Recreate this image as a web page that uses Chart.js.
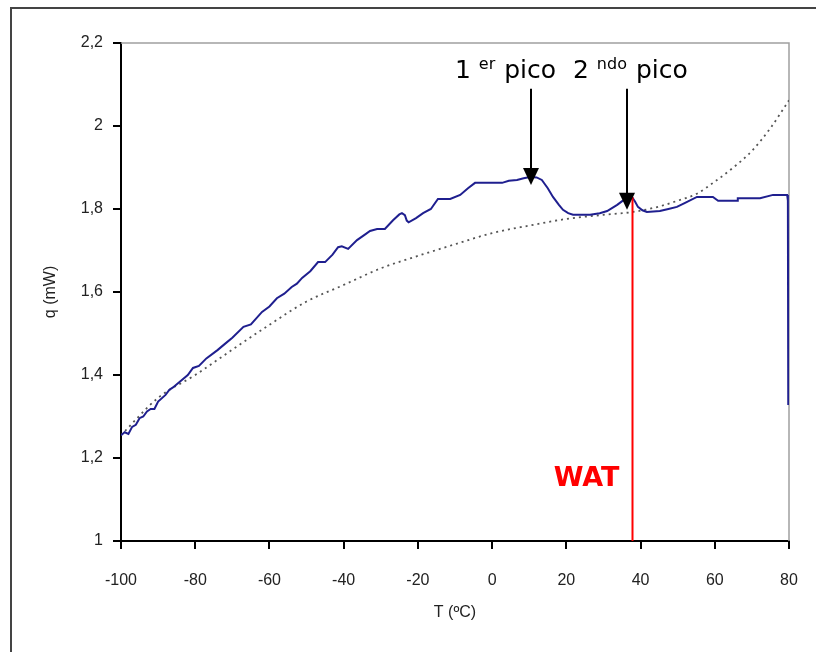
<!DOCTYPE html>
<html><head><meta charset="utf-8">
<script src="https://cdn.jsdelivr.net/npm/chart.js@4.4.1/dist/chart.umd.min.js"></script>
<style>
html,body{margin:0;padding:0;background:#fff;overflow:hidden;}
#wrap{position:relative;width:816px;height:652px;overflow:hidden;}
#frame{position:absolute;left:10px;top:7px;width:900px;height:800px;border-top:2px solid #444;border-left:2px solid #444;pointer-events:none;}
canvas{position:absolute;left:0;top:0;}
</style></head><body>
<div id="wrap"><canvas id="c" width="816" height="652"></canvas><div id="frame"></div></div>
<script>
// ---- data ----
const xTickLabels = ['-100','-80','-60','-40','-20','0','20','40','60','80'];
const yTickLabels = ['1','1,2','1,4','1,6','1,8','2','2,2'];

const measT = [-100,-99,-98,-97,-96,-95,-94,-93,-92,-91,-90,-88,-87,-86,-84,-82,-80.6,-79,-77,-74,-72,-70,-67,-65,-62,-60,-58,-56,-54,-52.6,-51.2,-49,-46.9,-45,-43,-41.5,-40.5,-38.8,-36.4,-34,-32.9,-31,-28.9,-26.7,-25,-24.3,-23.5,-23,-22.5,-20.5,-18.6,-16.5,-14.6,-11.3,-8.6,-6.5,-4.6,2.7,4.5,6.7,8.5,10.2,12,13.4,15,16.4,18,19.1,20.5,21.8,26.4,29,31,33.7,35.5,36.8,37.7,38.5,39.3,40.5,41.7,45.2,47.5,49.8,52,55.2,59.5,60.9,66,66.2,72.2,75.7,79.5,79.7,79.8];
const measQ = [1.255,1.262,1.258,1.275,1.28,1.296,1.30,1.312,1.318,1.318,1.336,1.352,1.364,1.37,1.385,1.40,1.417,1.422,1.44,1.46,1.475,1.49,1.516,1.522,1.552,1.565,1.585,1.596,1.612,1.62,1.634,1.65,1.672,1.672,1.69,1.708,1.71,1.704,1.725,1.74,1.747,1.752,1.752,1.773,1.787,1.79,1.785,1.772,1.768,1.778,1.79,1.80,1.824,1.824,1.834,1.85,1.863,1.863,1.868,1.870,1.874,1.877,1.876,1.870,1.85,1.829,1.81,1.798,1.79,1.786,1.786,1.79,1.795,1.81,1.822,1.832,1.829,1.818,1.805,1.797,1.793,1.795,1.80,1.805,1.815,1.829,1.829,1.82,1.82,1.826,1.826,1.834,1.834,1.82,1.328];

const baseT = [-100,-90,-80,-70,-60,-50,-40,-30,-20,-10,0,10,20,30,38,45,50,55,60,65,70,75,80];
const baseQ = [1.255,1.345,1.40,1.461,1.521,1.577,1.617,1.657,1.687,1.715,1.742,1.76,1.776,1.786,1.793,1.806,1.82,1.836,1.866,1.90,1.94,1.995,2.062];

// annotations
const peakT = [10.5, 36.3];
const arrowTopQ = 2.09;
const arrowTipQ = [1.858, 1.798];
const peakNum = ['1','2'];
const peakSup = ['er','ndo'];
const peakWord = 'pico';
const peakLabelT = [-10, 21.8];
const peakLabelQ = 2.116;
const watT = 37.7;
const watTopQ = 1.829;
const watText = 'WAT';
const watTextQ = 1.1325;

const toPts = (xs, ys) => xs.map((v, i) => ({x: v, y: ys[i]}));

const deco = {
  id: 'deco',
  beforeDatasetsDraw(chart) {
    const {ctx, chartArea: a} = chart;
    ctx.save();
    ctx.strokeStyle = '#a0a0a0';
    ctx.lineWidth = 1.5;
    ctx.beginPath();
    ctx.moveTo(a.left, a.top);
    ctx.lineTo(a.right, a.top);
    ctx.lineTo(a.right, a.bottom);
    ctx.stroke();
    ctx.restore();
  },
  afterDatasetsDraw(chart) {
    const {ctx, scales: {x, y}} = chart;
    ctx.save();
    // WAT line
    const wx = Math.round(x.getPixelForValue(watT)) + 0.5;
    ctx.strokeStyle = '#ff0000';
    ctx.lineWidth = 2;
    ctx.beginPath();
    ctx.moveTo(wx, y.getPixelForValue(watTopQ));
    ctx.lineTo(wx, y.getPixelForValue(1));
    ctx.stroke();
    ctx.fillStyle = '#ff0000';
    ctx.font = 'bold 27px "DejaVu Sans"';
    ctx.textAlign = 'right';
    ctx.textBaseline = 'alphabetic';
    ctx.fillText(watText, wx - 13, y.getPixelForValue(watTextQ));

    // arrows
    ctx.strokeStyle = '#000';
    ctx.fillStyle = '#000';
    ctx.lineWidth = 2;
    peakT.forEach((t, i) => {
      const px = Math.round(x.getPixelForValue(t));
      const y0 = y.getPixelForValue(arrowTopQ);
      const y1 = y.getPixelForValue(arrowTipQ[i]);
      ctx.beginPath();
      ctx.moveTo(px, y0);
      ctx.lineTo(px, y1 - 14);
      ctx.stroke();
      ctx.beginPath();
      ctx.moveTo(px - 8, y1 - 17);
      ctx.lineTo(px + 8, y1 - 17);
      ctx.lineTo(px, y1);
      ctx.closePath();
      ctx.fill();
    });

    // peak labels
    ctx.textAlign = 'left';
    peakLabelT.forEach((t, i) => {
      let px = x.getPixelForValue(t);
      const by = y.getPixelForValue(peakLabelQ);
      ctx.font = '25px "DejaVu Sans"';
      ctx.fillText(peakNum[i], px, by);
      px += ctx.measureText(peakNum[i] + ' ').width;
      ctx.font = '16px "DejaVu Sans"';
      ctx.fillText(peakSup[i], px, by - 9);
      px += ctx.measureText(peakSup[i]).width + 1;
      ctx.font = '25px "DejaVu Sans"';
      px += ctx.measureText(' ').width;
      ctx.fillText(peakWord, px, by);
    });
    ctx.restore();
  }
};

const tickFont = {family: '"Liberation Sans", Arial', size: 16};

new Chart(document.getElementById('c'), {
  type: 'line',
  data: {
    datasets: [
      {
        label: 'q',
        data: toPts(measT, measQ),
        borderColor: '#1f1f8f',
        borderWidth: 2,
        pointRadius: 0,
        tension: 0,
        fill: false
      },
      {
        label: 'base',
        data: toPts(baseT, baseQ),
        borderColor: '#555555',
        borderWidth: 1.8,
        borderDash: [2, 4],
        pointRadius: 0,
        cubicInterpolationMode: 'monotone',
        fill: false
      }
    ]
  },
  options: {
    responsive: false,
    devicePixelRatio: 1,
    animation: false,
    layout: {padding: {left: 41, top: 43, right: 27, bottom: 30}},
    plugins: {legend: {display: false}, tooltip: {enabled: false}},
    scales: {
      x: {
        type: 'linear',
        min: -100, max: 80,
        afterFit(s) { s.height = 81; s.paddingLeft = 0; s.paddingRight = 0; },
        ticks: {
          stepSize: 20,
          padding: 22,
          color: '#222',
          font: tickFont,
          maxRotation: 0,
          callback: (v, i) => xTickLabels[i]
        },
        grid: {display: true, drawOnChartArea: false, drawTicks: true, tickLength: 8, color: '#000', lineWidth: 2},
        border: {display: true, color: '#000', width: 2},
        title: {display: true, text: 'T (ºC)', color: '#222', font: tickFont, padding: 0}
      },
      y: {
        type: 'linear',
        min: 1, max: 2.2,
        afterFit(s) { s.width = 80; s.paddingTop = 0; s.paddingBottom = 0; },
        ticks: {
          stepSize: 0.2,
          padding: 10,
          color: '#222',
          font: tickFont,
          callback: (v, i) => yTickLabels[i]
        },
        grid: {display: true, drawOnChartArea: false, drawTicks: true, tickLength: 8, color: '#000', lineWidth: 2},
        border: {display: true, color: '#000', width: 2},
        title: {display: true, text: 'q (mW)', color: '#222', font: tickFont, padding: 0}
      }
    }
  },
  plugins: [deco]
});
</script>
</body></html>
